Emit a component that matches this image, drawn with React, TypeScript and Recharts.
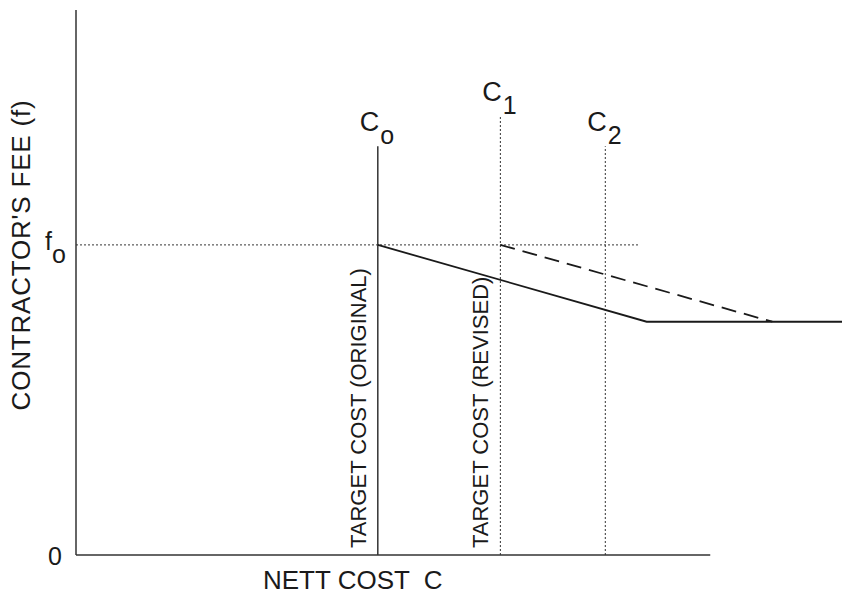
import { LineChart, Line, XAxis, YAxis, ReferenceLine } from "recharts";

// nett cost (x) and contractor's fee (y), both on a 0-100 scale
const feeTicks = [0, 56.9];
const fo = 56.9;
const targetCosts = [39.4, 55.4, 69.1]; // C_o, C_1, C_2
const targetTops = [75, 80.6, 75];
const targetSubs = ["o", "1", "2"];
const targetNotes = ["TARGET COST (ORIGINAL)", "TARGET COST (REVISED)", ""];
const originalCost = [39.4, 74.5, 100];
const originalFee = [56.9, 42.8, 42.8];
const revisedCost = [55.4, 90.9];
const revisedFee = [56.9, 42.8];
const axisEnd = 82.8;
const foLineEnd = 73.6;

const originalData = originalCost.map((c, i) => ({ c, f: originalFee[i] }));
const revisedData = revisedCost.map((c, i) => ({ c, f: revisedFee[i] }));

const font = "'Liberation Sans', Arial, sans-serif";
const ink = "#1a1a1a";

function FeeTick(props: any) {
  const { y, payload } = props;
  if (payload.value === 0) {
    return (
      <text x={62} y={y + 10} textAnchor="end" fontSize={25} fontFamily={font} fill={ink}>
        0
      </text>
    );
  }
  return (
    <text x={45} y={y + 5} fontSize={25} fontFamily={font} fill={ink}>
      f<tspan dy={13}>o</tspan>
    </text>
  );
}

const targetLabel = (i: number) => (props: any) => {
  const vb = props.viewBox || {};
  const x = vb.x;
  const top = vb.y;
  const bottom = vb.y + vb.height;
  return (
    <g>
      <text x={x - 18} y={top - 15} fontSize={27} fontFamily={font} fill={ink}>
        C<tspan dx={1} dy={13} fontSize={25}>{targetSubs[i]}</tspan>
      </text>
      {targetNotes[i] && (
        <text
          x={x - 12}
          y={bottom - 7}
          transform={`rotate(-90 ${x - 12} ${bottom - 7})`}
          fontSize={22}
          fontFamily={font}
          fill={ink}
        >
          {targetNotes[i]}
        </text>
      )}
    </g>
  );
};

export default function App() {
  return (
    <div style={{ position: "absolute", left: 0, top: 0, background: "#fff" }}>
      <LineChart width={842} height={594} margin={{ top: 10, right: 0, bottom: 0, left: 0 }}>
        <XAxis
          type="number"
          dataKey="c"
          domain={[0, 100]}
          allowDataOverflow
          height={39}
          axisLine={false}
          tickLine={false}
          tick={false}
          label={() => (
            <text
              x={263}
              y={589}
              fontSize={26}
              fontFamily={font}
              fill={ink}
              style={{ whiteSpace: "pre" }}
            >
              {"NETT COST  C"}
            </text>
          )}
        />
        <YAxis
          type="number"
          domain={[0, 100]}
          width={76}
          ticks={feeTicks}
          tick={<FeeTick />}
          tickLine={false}
          axisLine={{ stroke: "#333", strokeWidth: 1.5 }}
          label={() => (
            <text
              x={30}
              y={255}
              transform="rotate(-90 30 255)"
              textAnchor="middle"
              fontSize={26}
              letterSpacing={0.8}
              fontFamily={font}
              fill={ink}
            >
              CONTRACTOR'S FEE (f)
            </text>
          )}
        />
        <ReferenceLine
          segment={[{ x: 0, y: 0 }, { x: axisEnd, y: 0 }]}
          stroke="#333"
          strokeWidth={1.5}
        />
        <ReferenceLine
          segment={[{ x: 0, y: fo }, { x: foLineEnd, y: fo }]}
          stroke="#333"
          strokeDasharray="2 2"
        />
        {targetCosts.map((c, i) => (
          <ReferenceLine
            key={i}
            segment={[{ x: c, y: 0 }, { x: c, y: targetTops[i] }]}
            stroke="#333"
            strokeWidth={i === 0 ? 1.5 : 1}
            strokeDasharray={i === 0 ? undefined : "2 2"}
            label={targetLabel(i)}
          />
        ))}
        <Line
          data={originalData}
          dataKey="f"
          type="linear"
          dot={false}
          stroke={ink}
          strokeWidth={1.8}
          isAnimationActive={false}
        />
        <Line
          data={revisedData}
          dataKey="f"
          type="linear"
          dot={false}
          stroke={ink}
          strokeWidth={1.8}
          strokeDasharray="15 8"
          isAnimationActive={false}
        />
      </LineChart>
    </div>
  );
}
